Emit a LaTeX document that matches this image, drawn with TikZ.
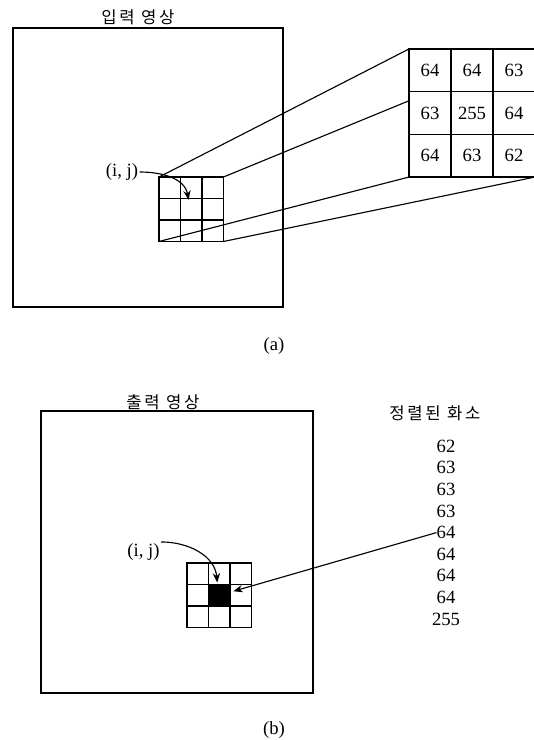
\documentclass[tikz,border=0pt]{standalone}
\usepackage{fontspec}
\setmainfont{Liberation Serif}
\newfontfamily\hangul[LetterSpace=16]{Noto Sans CJK KR}
\usetikzlibrary{arrows.meta,positioning,backgrounds}
\tikzset{
  imgframe/.style={draw, line width=1.2pt},
  cell/.style={draw, line width=0.9pt, minimum size=16.1pt, inner sep=0pt, outer sep=0pt},
  bigcell/.style={draw, line width=0.9pt, fill=white, minimum width=31.5pt, minimum height=32pt, inner sep=0pt, outer sep=0pt, font=\fontsize{14}{16}\selectfont},
  proj/.style={line width=0.85pt},
  pointer/.style={-{Stealth[length=7pt,width=5.5pt]}, line width=0.85pt},
  title/.style={font=\hangul\fontsize{12.5}{14}\selectfont, inner sep=0pt},
  note/.style={font=\fontsize{14}{16}\selectfont, inner sep=1pt}
}

\begin{document}
\begin{tikzpicture}[x=0.75pt, y=-0.75pt]
  \useasboundingbox (0,0) rectangle (533,740);
  % (a) input image and its 3x3 window
  \draw[imgframe] (13,28) rectangle (283,307);
  \node[title] (intitle) at (138,17) {입력 영상};
  \foreach \r in {0,1,2}
    \foreach \c in {0,1,2}
      \node[cell] (a\r\c) at ({169.75+21.5*\c},{187.75+21.5*\r}) {};
  \foreach \row [count=\r from 0] in {{64,64,63},{63,255,64},{64,63,62}}
    \foreach \v [count=\c from 0] in \row
      \node[bigcell] (t\r\c) at ({430+42*\c},{70.3+42.7*\r}) {\v};
  \begin{pgfonlayer}{background}
    \draw[proj] (a00.north west) -- (t00.north west);
    \draw[proj] (a02.north east) -- (t02.north east);
    \draw[proj] (a20.south west) -- (t20.south west);
    \draw[proj] (a22.south east) -- (t22.south east);
  \end{pgfonlayer}
  \node[note] (ijA) at (122,172) {(i, j)};
  \draw[pointer] (ijA.east) to[out=0,in=100] ([xshift=-2pt,yshift=-1pt]a11.north);
  \node[note] (capa) at (274,346) {(a)};
  % (b) output image and sorted pixels
  \draw[imgframe] (41,411) rectangle (313,693);
  \node[title] (outtitle) at (163,402) {출력 영상};
  \foreach \r in {0,1,2}
    \foreach \c in {0,1,2}
      \node[cell] (b\r\c) at ({197.75+21.5*\c},{573.75+21.5*\r}) {};
  \fill (b11.north west) rectangle (b11.south east);
  \node[title] (sorttitle) at (435,413) {정렬된 화소};
  \foreach \v [count=\i] in {62,63,63,63,64,64,64,64,255}
    \node[note, inner sep=0pt] (s\i) at (446,{424.6+21.6*\i}) {\v};
  \draw[pointer] (s5.west) -- ([xshift=2.5pt,yshift=3pt]b12.west);
  \node[note] (ijB) at (143.5,552) {(i, j)};
  \draw[pointer] (ijB.north east) to[out=0,in=95] ([xshift=-1.5pt,yshift=1.5pt]b11.north);
  \node[note] (capb) at (274,730) {(b)};
\end{tikzpicture}
\end{document}
